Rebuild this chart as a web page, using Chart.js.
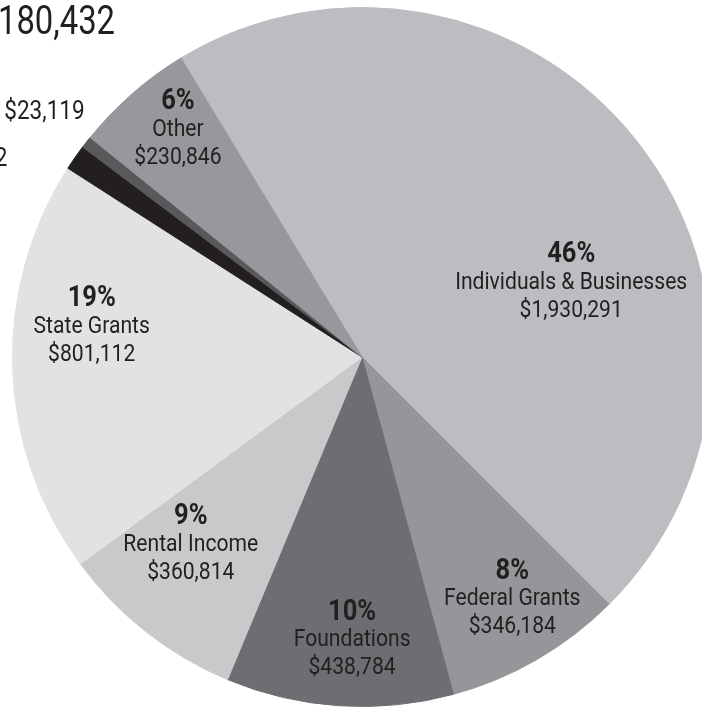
<!DOCTYPE html>
<html>
<head>
<meta charset="utf-8">
<script src="https://cdn.jsdelivr.net/npm/chart.js@4.4.1/dist/chart.umd.min.js"></script>
<style>
    html, body { margin: 0; padding: 0; background: #fff; overflow: hidden; width: 702px; height: 709px; }
    #wrap { position: absolute; left: 0; top: 0; width: 730px; height: 730px; }
</style>
</head>
<body>
<div id="wrap"><canvas id="revenueChart" width="730" height="730"></canvas></div>
<script>
    const categories = [
        'Individuals & Businesses', 'Federal Grants', 'Foundations', 'Rental Income',
        'State Grants', 'Investment Income', 'In-Kind', 'Other'
    ];
    const amounts = [1930291, 346184, 438784, 360814, 801112, 49282, 23119, 230846];
    const sliceColors = ['#bcbdc0', '#959699', '#6d6e71', '#c8c9cb', '#e1e2e3', '#231f20', '#58595b', '#97989b'];

    const total = amounts.reduce((sum, v) => sum + v, 0);
    const money = v => '$' + v.toLocaleString('en-US');

    // where each label sits: angle (deg, clockwise from top) and fraction of radius
    const labelSpots = [
        { angle: 70.5, r: 0.635, mode: 'inside' },
        { angle: 148.2, r: 0.816, mode: 'inside' },
        { angle: 182, r: 0.811, mode: 'inside' },
        { angle: 222.3, r: 0.728, mode: 'inside' },
        { angle: 276.3, r: 0.778, mode: 'inside' },
        { angle: 299.1, r: 1.161, mode: 'outside' },
        { angle: 311.4, r: 1.058, mode: 'outside' },
        { angle: 321, r: 0.837, mode: 'inside' }
    ];

    const squeeze = 0.88; // condensed look

    function drawText(ctx, text, x, y, font, align, sx) {
        ctx.save();
        ctx.font = font;
        ctx.textAlign = align;
        ctx.textBaseline = 'middle';
        ctx.translate(x, y);
        ctx.scale(sx || squeeze, 1);
        ctx.fillText(text, 0, 0);
        ctx.restore();
    }

    const sliceLabels = {
        id: 'sliceLabels',
        afterDatasetsDraw(chart) {
            const ctx = chart.ctx;
            const arcs = chart.getDatasetMeta(0).data;
            ctx.fillStyle = '#231f20';
            arcs.forEach((arc, i) => {
                const spot = labelSpots[i];
                const a = spot.angle * Math.PI / 180;
                const x = arc.x + Math.sin(a) * arc.outerRadius * spot.r;
                const y = arc.y - Math.cos(a) * arc.outerRadius * spot.r;
                if (spot.mode === 'inside') {
                    const pct = Math.round(amounts[i] / total * 100) + '%';
                    drawText(ctx, pct, x, y - 28, 'bold 29px Roboto', 'center');
                    drawText(ctx, categories[i], x, y, '24px Roboto', 'center');
                    drawText(ctx, money(amounts[i]), x, y + 28, '24px Roboto', 'center');
                } else {
                    drawText(ctx, money(amounts[i]), x, y, '25px Roboto', 'right', 0.9);
                }
            });
            // total at the top (cut by the frame like the original)
            drawText(ctx, 'Total Revenue: ' + money(total), 115, 24, '41px Roboto', 'right', 0.8);
        }
    };

    new Chart(document.getElementById('revenueChart'), {
        type: 'pie',
        data: {
            labels: categories,
            datasets: [{
                data: amounts,
                backgroundColor: sliceColors,
                borderColor: sliceColors,
                borderWidth: 1
            }]
        },
        options: {
            responsive: false,
            animation: false,
            rotation: -31.2,
            layout: { padding: { left: 12, top: 7, right: 18, bottom: 23 } },
            plugins: {
                legend: { display: false },
                tooltip: { enabled: false }
            }
        },
        plugins: [sliceLabels]
    });
</script>
</body>
</html>
